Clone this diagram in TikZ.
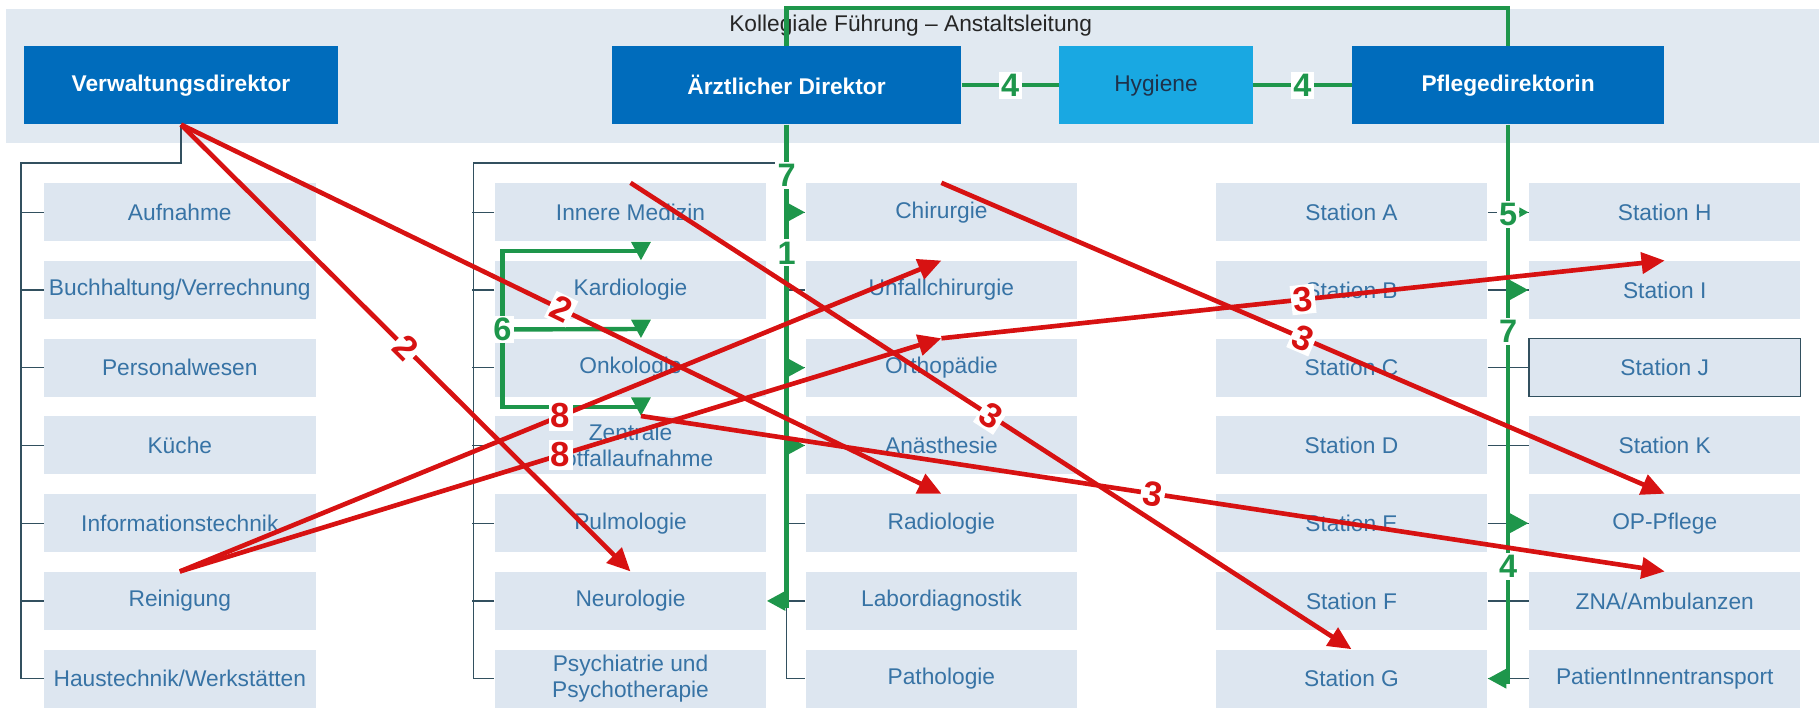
\documentclass[tikz,border=0pt]{standalone}
\usepackage{fontspec}
\setmainfont{Liberation Sans}
\usetikzlibrary{arrows.meta}
\definecolor{band}{RGB}{225,233,241}
\definecolor{boxfill}{RGB}{221,230,240}
\definecolor{boxtext}{RGB}{55,115,165}
\definecolor{leitblue}{RGB}{0,108,188}
\definecolor{hygblue}{RGB}{25,168,226}
\definecolor{hygtext}{RGB}{30,50,75}
\definecolor{darkline}{RGB}{50,80,95}
\definecolor{grn}{RGB}{30,150,75}
\definecolor{rd}{RGB}{215,18,18}
\begin{document}
\begin{tikzpicture}[x=0.5pt,y=-0.5pt,
abt/.style={fill=boxfill,text=boxtext,minimum width=117pt,minimum height=25pt,inner sep=0pt,align=center,font=\fontsize{9.8}{11.5}\selectfont},
leit/.style={fill=leitblue,text=white,minimum height=33.5pt,inner sep=0pt,font=\fontsize{9.8}{11}\selectfont\bfseries},
brk/.style={darkline,line width=0.6pt},
gline/.style={grn,line width=1.9pt},
garr/.style={grn,line width=1.9pt,-{Triangle[length=8pt,width=8pt]}},
gnum/.style={fill=white,text=grn,inner sep=1pt,font=\fontsize{14}{14}\selectfont\bfseries},
rarr/.style={rd,line width=2pt,-{Triangle[length=10pt,width=9pt]}},
rnum/.style={fill=white,text=rd,inner sep=1pt,font=\fontsize{15}{15}\selectfont\bfseries}]
\useasboundingbox(0,0)rectangle(1568,610);
\fill[band](5,8)rectangle(1568,123);
\node[text=black!85,font=\fontsize{9.8}{11}\selectfont](titel)at(785,22){Kollegiale Führung – Anstaltsleitung};

% Leitung
\node[leit,minimum width=135pt](vd)at(156,73.5){Verwaltungsdirektor};
\node[leit,minimum width=150.5pt](aed)at(678,73.5){Ärztlicher Direktor};
\node[leit,fill=hygblue,text=hygtext,font=\fontsize{9.8}{11}\selectfont,minimum width=83.5pt](hyg)at(996.5,73.5){Hygiene};
\node[leit,minimum width=134.5pt](pfd)at(1300,73.5){Pflegedirektorin};

% Verwaltung
\node[abt](aufn)at(155,183){Aufnahme};
\node[abt](buch)at(155,250){Buchhaltung/Verrechnung};
\node[abt](pers)at(155,317){Personalwesen};
\node[abt](kue)at(155,384){Küche};
\node[abt](info)at(155,451){Informationstechnik};
\node[abt](rein)at(155,518){Reinigung};
\node[abt](haus)at(155,585){Haustechnik/Werkstätten};

% Medizin
\node[abt](inn)at(543.5,183){Innere Medizin};
\node[abt](kard)at(543.5,250){Kardiologie};
\node[abt](onk)at(543.5,317){Onkologie};
\node[abt](znot)at(543.5,384){Zentrale\\Notfallaufnahme};
\node[abt](pulm)at(543.5,451){Pulmologie};
\node[abt](neuro)at(543.5,518){Neurologie};
\node[abt](psy)at(543.5,585){Psychiatrie und\\Psychotherapie};
\node[abt](chir)at(811.5,183){Chirurgie};
\node[abt](unf)at(811.5,250){Unfallchirurgie};
\node[abt](orth)at(811.5,317){Orthopädie};
\node[abt](anae)at(811.5,384){Anästhesie};
\node[abt](radio)at(811.5,451){Radiologie};
\node[abt](labor)at(811.5,518){Labordiagnostik};
\node[abt](patho)at(811.5,585){Pathologie};

% Pflege
\node[abt](stA)at(1165,183){Station A};
\node[abt](stB)at(1165,250){Station B};
\node[abt](stC)at(1165,317){Station C};
\node[abt](stD)at(1165,384){Station D};
\node[abt](stE)at(1165,451){Station E};
\node[abt](stF)at(1165,518){Station F};
\node[abt](stG)at(1165,585){Station G};
\node[abt](stH)at(1435,183){Station H};
\node[abt](stI)at(1435,250){Station I};
\node[abt,draw=darkline,line width=0.6pt](stJ)at(1435,317){Station J};
\node[abt](stK)at(1435,384){Station K};
\node[abt](oppfl)at(1435,451){OP-Pflege};
\node[abt](amb)at(1435,518){ZNA/Ambulanzen};
\node[abt](transp)at(1435,585){PatientInnentransport};

% Linien
\draw[brk](vd.south)--++(0,33)-|(18,585)--(haus.west);
\foreach \n in {aufn,buch,pers,kue,info,rein}\draw[brk](\n.west)--++(-20,0);
\draw[brk](aed.south)++(0,33)-|(408,585)--(psy.west);
\foreach \n in {inn,kard,onk,znot,pulm,neuro}\draw[brk](\n.west)--++(-19,0);
\draw[brk](aed.south)--(678,585)--(patho.west);
\foreach \n in {chir,unf,orth,anae,radio,labor}\draw[brk](\n.west)--++(-17,0);
\draw[brk](pfd.south)--(1300,585)--(transp.west);
\foreach \n in {stA,stB,stC,stD,stE,stF,stG}\draw[brk](\n.east)--++(18,0);
\foreach \n in {stH,stI,stJ,stK,oppfl,amb}\draw[brk](\n.west)--++(-18,0);

\coordinate(tl)at(678,524);
\coordinate(tr)at(1300,590);
\draw[gline](aed.north)|-(1300,7)--(pfd.north);
\draw[gline](aed.south)--(tl);
\draw[gline](pfd.south)--(tr);
\draw[gline](aed.east)--node[gnum](g4a){4}(hyg.west);
\draw[gline](hyg.east)--node[gnum](g4b){4}(pfd.west);

\draw[garr](chir.west-|tl)--(chir.west);
\draw[garr](orth.west-|tl)--(orth.west);
\draw[garr](anae.west-|tl)--(anae.west);
\draw[garr](neuro.east-|tl)--(neuro.east);
\draw[garr](stI.west-|tr)--(stI.west);
\draw[garr](oppfl.west-|tr)--(oppfl.west);
\draw[garr](stG.east-|tr)--(stG.east);
\draw[grn,line width=1pt,-{Triangle[length=4pt,width=4pt]}](stH.west-|tr)--(stH.west);
\node[gnum](g7)at(678,151){7};
\node[gnum](g1)at(678,218){1};
\node[gnum](g5)at(1300,185){5};
\node[gnum](g7r)at(1300,286){7};
\node[gnum](g4)at(1300,488){4};

\coordinate(six)at(433,284);
\draw[garr](six)|-([xshift=4.5pt,yshift=4pt]kard.north)--([xshift=4.5pt]kard.north);
\draw[garr](six)--([xshift=4.5pt,yshift=4pt]onk.north)--([xshift=4.5pt]onk.north);
\draw[garr](six)|-([xshift=4.5pt,yshift=4pt]znot.north)--([xshift=4.5pt]znot.north);
\node[gnum](g6)at(six){6};

% Schnittstellen
\draw[rarr](vd.south)--node[rnum,sloped](r2a){2}(neuro.north);
\draw[rarr](vd.south)--node[rnum,sloped](r2b){2}(radio.north);
\draw[rarr](inn.north)--node[rnum,sloped](r3a){3}(stG.north);
\draw[rarr](chir.north)--node[rnum,sloped](r3b){3}(oppfl.north);
\draw[rarr](rein.north)--node[rnum](r8a){8}(unf.north);
\draw[rarr](rein.north)--node[rnum](r8b){8}(orth.north);
\draw[rarr]([xshift=4.5pt]znot.north)--node[rnum,sloped](r3c){3}(amb.north);
\draw[rarr](orth.north)--node[rnum,sloped](r3d){3}(stI.north);
\end{tikzpicture}
\end{document}
